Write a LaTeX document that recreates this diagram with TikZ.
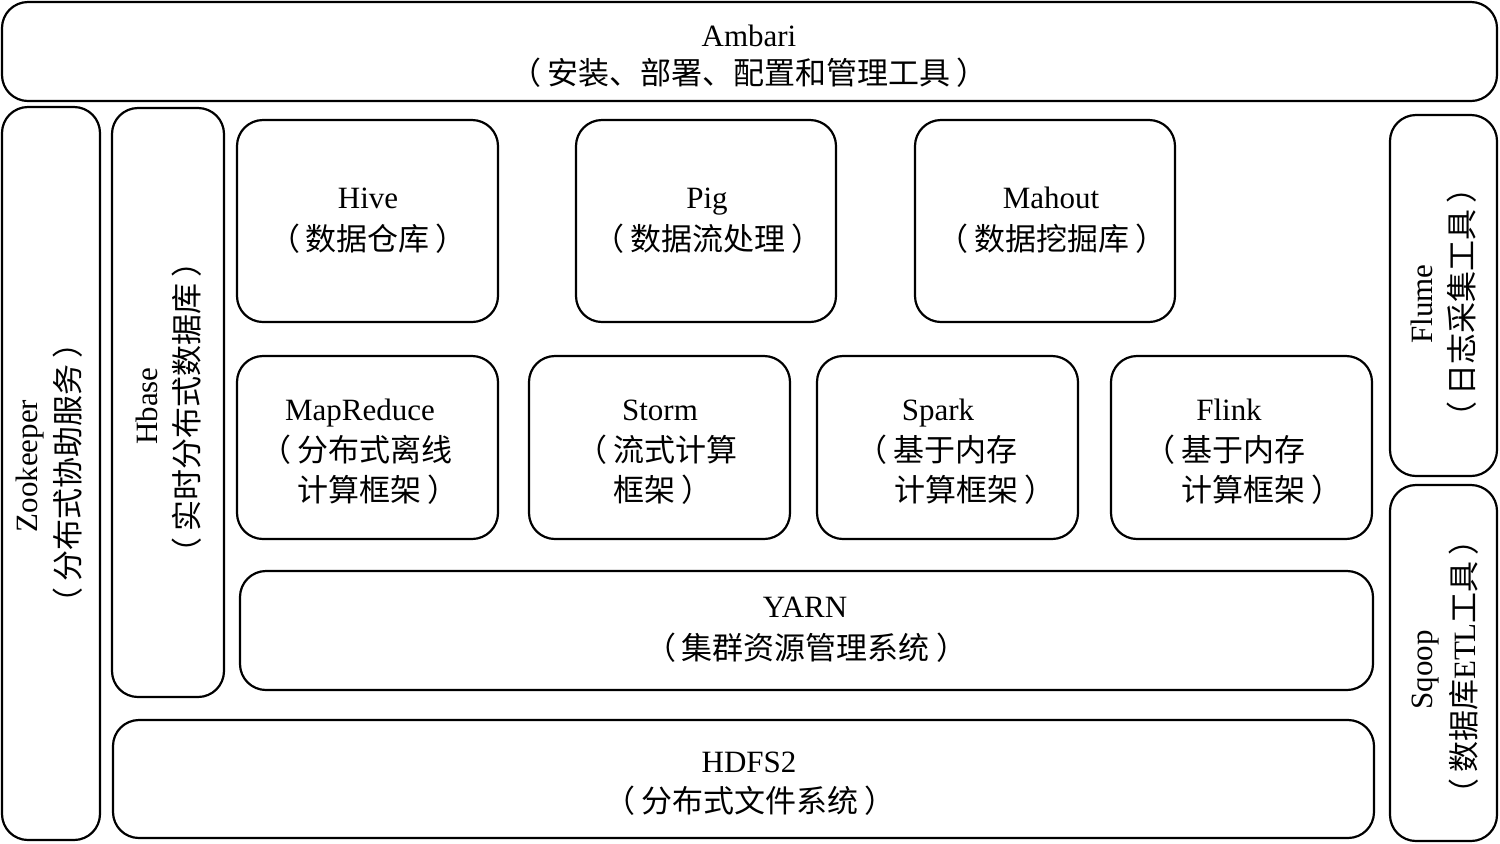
\documentclass[tikz,border=0pt]{standalone}
\usepackage{fontspec}
\setmainfont{Liberation Serif}
\newfontfamily\cjk{Noto Sans CJK SC}
\newcommand{\lpar}{（\kern3pt}
\newcommand{\rpar}{\kern3pt）}
\begin{document}
\begin{tikzpicture}[x=0.5pt,y=-0.5pt,
  box/.style={draw, line width=1.1pt, rounded corners=13pt, inner sep=0pt},
  lat/.style={font=\fontsize{15.5}{18}\selectfont, inner sep=0pt, anchor=base},
  zh/.style={font=\fontsize{15.5}{18}\selectfont\cjk, inner sep=0pt, anchor=base},
  zhw/.style={zh, anchor=base west},
  vert/.style={rotate=90}]
\useasboundingbox (0,0) rectangle (1500,843);
% boxes
\node[box, minimum width=747.5pt, minimum height=49.5pt] (ambari) at (749.5,51.5) {};
\node[box, minimum width=49pt, minimum height=366.5pt] (zk) at (51,473.5) {};
\node[box, minimum width=56pt, minimum height=294.5pt] (hbase) at (168,402.5) {};
\node[box, minimum width=130.5pt, minimum height=101pt] (hive) at (367.5,221) {};
\node[box, minimum width=130pt, minimum height=101pt] (pig) at (706,221) {};
\node[box, minimum width=130pt, minimum height=101pt] (mahout) at (1045,221) {};
\node[box, minimum width=130.5pt, minimum height=91.5pt] (mr) at (367.5,447.5) {};
\node[box, minimum width=130.5pt, minimum height=91.5pt] (storm) at (659.5,447.5) {};
\node[box, minimum width=130.5pt, minimum height=91.5pt] (spark) at (947.5,447.5) {};
\node[box, minimum width=130.5pt, minimum height=91.5pt] (flink) at (1241.5,447.5) {};
\node[box, minimum width=566.5pt, minimum height=59.5pt] (yarn) at (806.5,630.5) {};
\node[box, minimum width=630.5pt, minimum height=59pt] (hdfs) at (743.5,779) {};
\node[box, minimum width=53.5pt, minimum height=180.5pt] (flume) at (1443.5,295.5) {};
\node[box, minimum width=53.5pt, minimum height=178pt] (sqoop) at (1443.5,663) {};
% texts
\node[lat] (ambariA) at (749,46) {Ambari};
\node[zh] (ambariB) at (749,84) {\lpar 安装、部署、配置和管理工具\rpar};
\node[lat] (hiveA) at (368,208) {Hive};
\node[zh] (hiveB) at (368,250) {\lpar 数据仓库\rpar};
\node[lat] (pigA) at (707,208) {Pig};
\node[zh] (pigB) at (708,250) {\lpar 数据流处理\rpar};
\node[lat] (mahoutA) at (1051,208) {Mahout};
\node[zh] (mahoutB) at (1052,250) {\lpar 数据挖掘库\rpar};
\node[lat] (mrA) at (360,420) {MapReduce};
\node[zhw] (mrB) at (297,461) {\llap{\lpar}分布式离线};
\node[zhw] (mrC) at (297,501) {计算框架\rpar};
\node[lat] (stormA) at (660,420) {Storm};
\node[zhw] (stormB) at (613,461) {\llap{\lpar}流式计算};
\node[zhw] (stormC) at (613,501) {框架\rpar};
\node[lat] (sparkA) at (938,420) {Spark};
\node[zhw] (sparkB) at (893,461) {\llap{\lpar}基于内存};
\node[zhw] (sparkC) at (894,501) {计算框架\rpar};
\node[lat] (flinkA) at (1229,420) {Flink};
\node[zhw] (flinkB) at (1181,461) {\llap{\lpar}基于内存};
\node[zhw] (flinkC) at (1181,501) {计算框架\rpar};
\node[lat] (yarnA) at (805,617) {YARN};
\node[zh] (yarnB) at (806,659) {\lpar 集群资源管理系统\rpar};
\node[lat] (hdfsA) at (749,772) {HDFS2};
\node[zh] (hdfsB) at (750,812) {\lpar 分布式文件系统\rpar};
\node[lat, vert] (zkA) at (37,466) {Zookeeper};
\node[zh, vert] (zkB) at (79,473) {\lpar 分布式协助服务\rpar};
\node[lat, vert] (hbaseA) at (157,406) {Hbase};
\node[zh, vert] (hbaseB) at (198,407) {\lpar 实时分布式数据库\rpar};
\node[lat, vert] (flumeA) at (1432,304) {Flume};
\node[zh, vert] (flumeB) at (1473,302) {\lpar 日志采集工具\rpar};
\node[lat, vert] (sqoopA) at (1432,670) {Sqoop};
\node[zh, vert] (sqoopB) at (1475,667) {\lpar 数据库{\rmfamily ETL}工具\rpar};
\end{tikzpicture}
\end{document}
